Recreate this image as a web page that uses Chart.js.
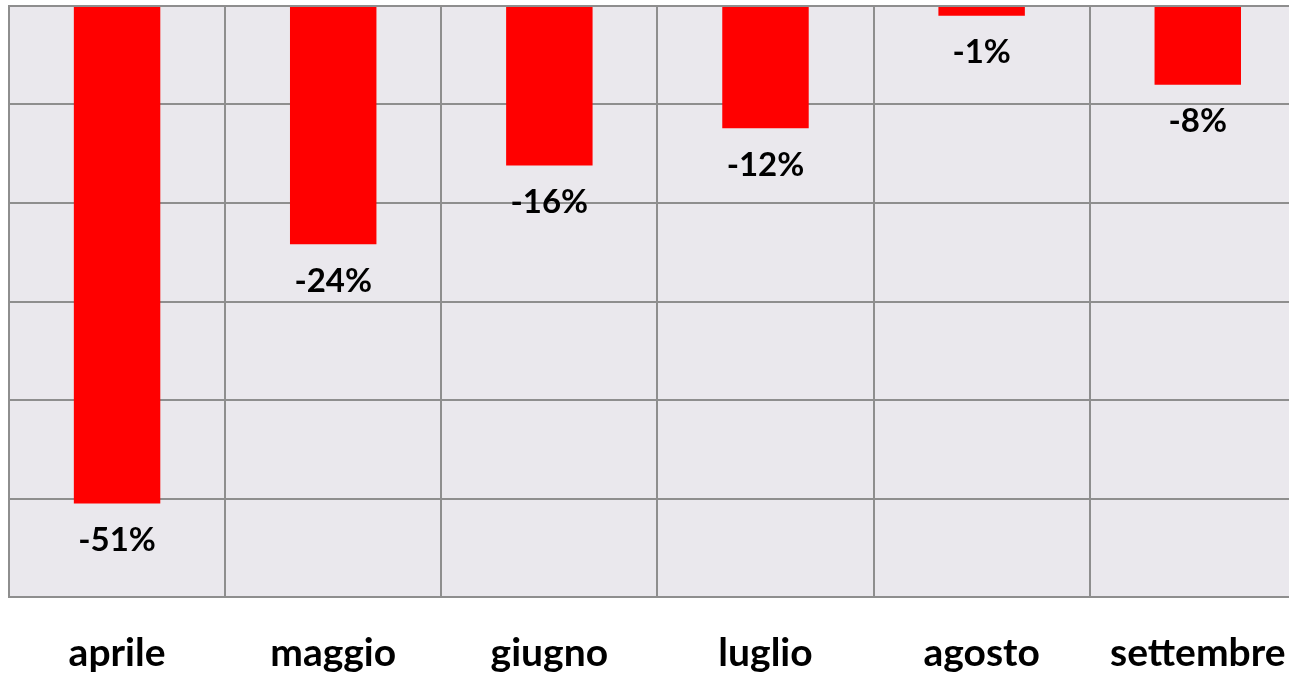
<!DOCTYPE html>
<html>
<head>
<meta charset="utf-8">
<script src="https://cdn.jsdelivr.net/npm/chart.js@4"></script>
<style>
  html, body { margin: 0; padding: 0; background: #fff; overflow: hidden; }
  #wrap { width: 1319px; height: 674px; }
</style>
</head>
<body>
<div id="wrap"><canvas id="myChart"></canvas></div>
<script>
const months = ['aprile', 'maggio', 'giugno', 'luglio', 'agosto', 'settembre'];
const changes = [-50.5, -24.2, -16.2, -12.4, -1.0, -8.0];
const yTicks = [0, -10, -20, -30, -40, -50, -60];

const gridColor = '#8e8e8e';
const labelFont = 'Lato, "Open Sans", sans-serif';

// fill the plot area
const plotBackground = {
  id: 'plotBackground',
  beforeDraw(chart) {
    const { ctx, chartArea: a } = chart;
    ctx.save();
    ctx.fillStyle = '#eae8ed';
    ctx.fillRect(a.left, a.top, a.right - a.left, a.bottom - a.top);
    ctx.restore();
  }
};

// percentage under each bar
const barLabels = {
  id: 'barLabels',
  afterDatasetsDraw(chart) {
    const ctx = chart.ctx;
    const meta = chart.getDatasetMeta(0);
    ctx.save();
    ctx.font = 'bold 33px ' + labelFont;
    ctx.fillStyle = '#000';
    ctx.textAlign = 'center';
    ctx.textBaseline = 'middle';
    meta.data.forEach((bar, i) => {
      ctx.fillText('-' + Math.round(-changes[i]) + '%', bar.x, bar.y + 37);
    });
    ctx.restore();
  }
};

new Chart(document.getElementById('myChart'), {
  type: 'bar',
  data: {
    labels: months,
    datasets: [{
      data: changes,
      backgroundColor: '#ff0000',
      borderWidth: 0,
      categoryPercentage: 1,
      barPercentage: 0.4
    }]
  },
  options: {
    responsive: true,
    maintainAspectRatio: false,
    animation: false,
    layout: { padding: { left: 9, top: 6, right: 6, bottom: 0 } },
    plugins: {
      legend: { display: false },
      tooltip: { enabled: false }
    },
    scales: {
      y: {
        min: yTicks[yTicks.length - 1],
        max: yTicks[0],
        afterBuildTicks(axis) {
          axis.ticks = yTicks.map(v => ({ value: v }));
        },
        ticks: { display: false },
        grid: { color: gridColor, lineWidth: 2, drawTicks: false },
        border: { color: gridColor, width: 2 }
      },
      x: {
        position: 'bottom',
        afterFit(axis) { axis.height = 77; },
        ticks: {
          color: '#000',
          padding: 33,
          maxRotation: 0,
          autoSkip: false,
          font: { family: labelFont, size: 39, weight: 'bold' }
        },
        grid: { color: gridColor, lineWidth: 2, drawTicks: false },
        border: { color: gridColor, width: 2 }
      }
    }
  },
  plugins: [plotBackground, barLabels]
});
</script>
</body>
</html>
